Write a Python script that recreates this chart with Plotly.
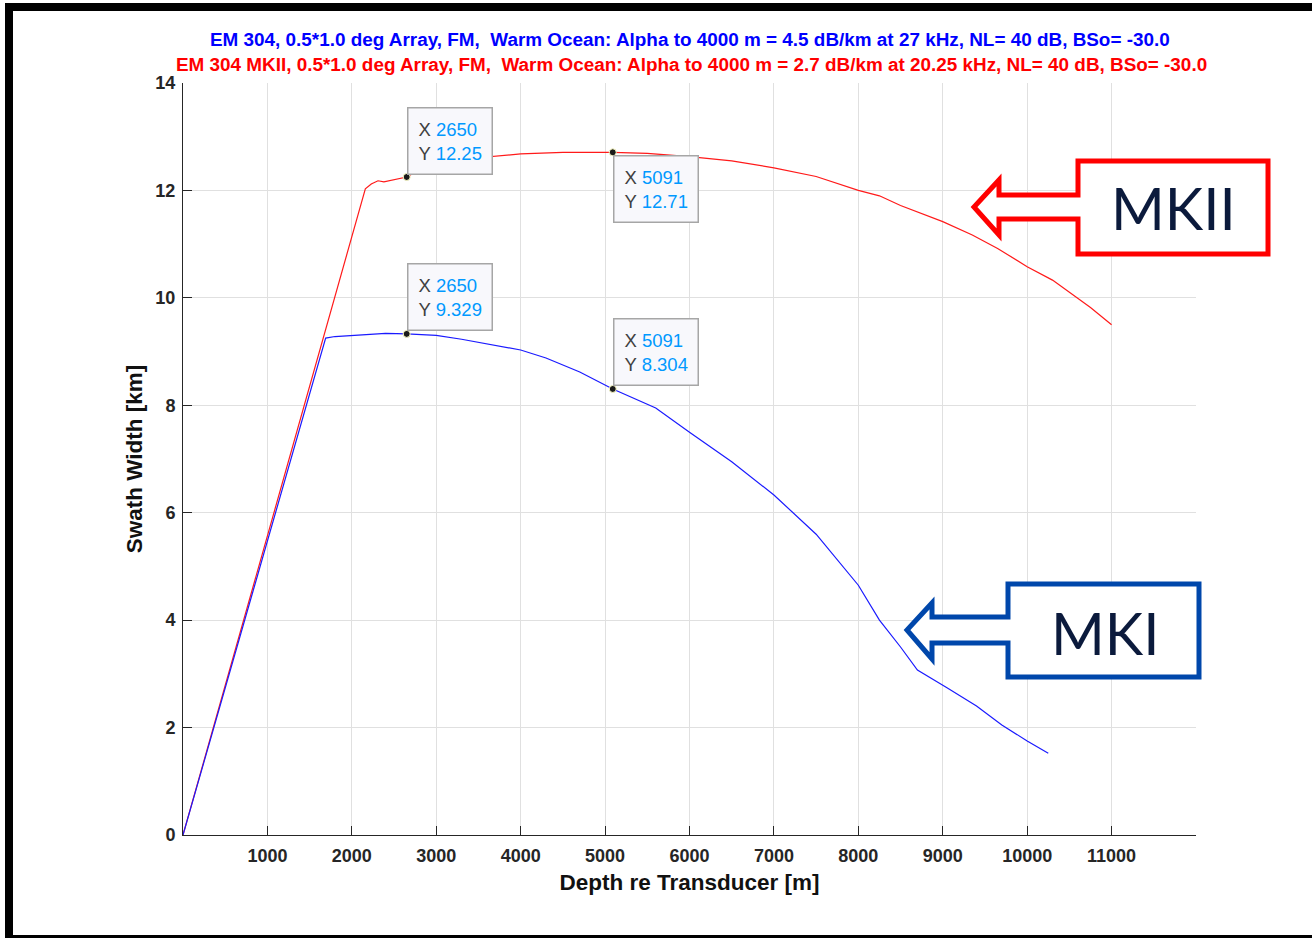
import plotly.graph_objects as go

# ---------------- data ----------------
mk2_depth = [0, 2160, 2230, 2310, 2380, 2500, 2650, 2800, 3000, 3300, 3700, 4000, 4500,
             5091, 5500, 6000, 6500, 7000, 7500, 8000, 8250, 8500, 9000, 9350, 9650,
             10000, 10300, 10500, 10750, 11000]
mk2_width = [0, 12.03, 12.12, 12.18, 12.16, 12.2, 12.25, 12.38, 12.5, 12.58, 12.63, 12.68, 12.71,
             12.71, 12.69, 12.63, 12.55, 12.42, 12.26, 12.0, 11.9, 11.72, 11.42, 11.17, 10.92,
             10.58, 10.33, 10.1, 9.82, 9.5]

mk1_depth = [0, 1690, 1800, 2000, 2200, 2400, 2650, 3000, 3300, 3600, 4000, 4300, 4700,
             5091, 5600, 6000, 6500, 7000, 7500, 8000, 8250, 8500, 8700, 9050, 9400, 9700,
             10000, 10250]
mk1_width = [0, 9.25, 9.28, 9.3, 9.33, 9.34, 9.329, 9.3, 9.23, 9.15, 9.03, 8.88, 8.62,
             8.304, 7.95, 7.5, 6.95, 6.33, 5.6, 4.65, 4.0, 3.5, 3.07, 2.74, 2.4, 2.05,
             1.75, 1.52]

tip_depth = [2650, 5091]
tip_mk2 = [12.25, 12.71]
tip_mk1 = [9.329, 8.304]
tip_mk2_text = ["12.25", "12.71"]
tip_mk1_text = ["9.329", "8.304"]

x_ticks = [1000, 2000, 3000, 4000, 5000, 6000, 7000, 8000, 9000, 10000, 11000]
y_ticks = [0, 2, 4, 6, 8, 10, 12, 14]

title_mk1 = "EM 304, 0.5*1.0 deg Array, FM,\u00a0 Warm Ocean: Alpha to 4000 m = 4.5 dB/km at 27 kHz, NL= 40 dB, BSo= -30.0"
title_mk2 = "EM 304 MKII, 0.5*1.0 deg Array, FM,\u00a0 Warm Ocean: Alpha to 4000 m = 2.7 dB/km at 20.25 kHz, NL= 40 dB, BSo= -30.0"

# ---------------- layout geometry ----------------
WIDTH, HEIGHT = 1312, 938
L, R, T, B = 183, 1196, 83, 835
PW, PH = R - L, B - T


def px(x):
    return (x - L) / PW


def py(y):
    return (B - y) / PH


FONT = "Liberation Sans, Arial, Helvetica, sans-serif"
AXC = "#262626"

fig = go.Figure()
fig.add_trace(go.Scatter(x=mk2_depth, y=mk2_width, mode="lines",
                         line=dict(color="#ff1a1a", width=1.2), showlegend=False, hoverinfo="skip"))
fig.add_trace(go.Scatter(x=mk1_depth, y=mk1_width, mode="lines",
                         line=dict(color="#1a1aff", width=1.2), showlegend=False, hoverinfo="skip"))
fig.add_trace(go.Scatter(x=tip_depth + tip_depth, y=tip_mk2 + tip_mk1, mode="markers",
                         marker=dict(color="#1a1a1a", size=7, line=dict(color="#ffffc8", width=1)),
                         showlegend=False, hoverinfo="skip"))

annotations = []
# title lines
annotations.append(dict(text=f"<b>{title_mk1}</b>", x=px(690), y=py(40), xref="paper", yref="paper",
                        showarrow=False, xanchor="center", yanchor="middle",
                        font=dict(family=FONT, size=18.9, color="#0000ff")))
annotations.append(dict(text=f"<b>{title_mk2}</b>", x=px(691), y=py(65), xref="paper", yref="paper",
                        showarrow=False, xanchor="center", yanchor="middle",
                        font=dict(family=FONT, size=18.9, color="#ff0000")))


def tip_text(xv, yv):
    return (f"X <span style='color:#0099ff'>{xv}</span><br>"
            f"Y <span style='color:#0099ff'>{yv}</span>")


tip_cfg = [
    (tip_depth[0], tip_mk2[0], tip_mk2_text[0], "bottom", 2),
    (tip_depth[1], tip_mk2[1], tip_mk2_text[1], "top", -3),
    (tip_depth[0], tip_mk1[0], tip_mk1_text[0], "bottom", 3),
    (tip_depth[1], tip_mk1[1], tip_mk1_text[1], "bottom", 3),
]
for xv, yv, ytxt, ya, ys in tip_cfg:
    annotations.append(dict(text=tip_text(xv, ytxt), x=xv, y=yv, xref="x", yref="y",
                            showarrow=False, xanchor="left", yanchor=ya, xshift=0, yshift=ys,
                            align="left", bgcolor="#f8f8fc", bordercolor="#a6a6a6", borderwidth=1.5,
                            borderpad=10, font=dict(family=FONT, size=18.5, color="#404040")))

# callout labels
annotations.append(dict(text="MKII", x=px(1173), y=py(208), xref="paper", yref="paper",
                        showarrow=False, xanchor="center", yanchor="middle",
                        font=dict(family="Lato, Open Sans, sans-serif", size=58, color="#0b1a3c")))
annotations.append(dict(text="MKI", x=px(1105), y=py(632), xref="paper", yref="paper",
                        showarrow=False, xanchor="center", yanchor="middle",
                        font=dict(family="Lato, Open Sans, sans-serif", size=58, color="#0b1a3c")))


def path_from(points):
    s = "M " + " L ".join(f"{px(x):.5f},{py(y):.5f}" for x, y in points) + " Z"
    return s


shapes = []
# outer frame (black bands)
for x0, y0, x1, y1 in [(5, 3, 1312, 11), (5, 3, 13, 938), (5, 935, 1312, 938)]:
    shapes.append(dict(type="rect", xref="paper", yref="paper", x0=px(x0), x1=px(x1),
                       y0=py(y1), y1=py(y0), fillcolor="black", line=dict(width=0), layer="above"))

mk2_callout = [(1078, 161), (1268, 161), (1268, 254), (1078, 254), (1078, 219), (999, 219),
               (999, 235), (974, 207), (999, 180), (999, 195), (1078, 195)]
mk1_callout = [(1008, 584), (1199, 584), (1199, 677), (1008, 677), (1008, 643), (932, 643),
               (932, 659), (907, 630), (932, 603), (932, 617), (1008, 617)]
shapes.append(dict(type="path", xref="paper", yref="paper", path=path_from(mk2_callout),
                   fillcolor="white", line=dict(color="#ff0000", width=5), layer="above"))
shapes.append(dict(type="path", xref="paper", yref="paper", path=path_from(mk1_callout),
                   fillcolor="white", line=dict(color="#0047ab", width=5), layer="above"))

fig.update_layout(
    width=WIDTH, height=HEIGHT,
    margin=dict(l=L, r=WIDTH - R, t=T, b=HEIGHT - B, autoexpand=False),
    paper_bgcolor="white", plot_bgcolor="white",
    annotations=annotations, shapes=shapes,
    xaxis=dict(range=[0, 12000], tickvals=x_ticks, ticktext=[str(v) for v in x_ticks],
               showgrid=True, gridcolor="#e0e0e0", gridwidth=1, zeroline=False,
               showline=True, linecolor=AXC, linewidth=1, mirror=False,
               ticks="inside", ticklen=9, tickcolor=AXC, tickwidth=1, ticklabelstandoff=4,
               tickfont=dict(family=FONT, size=18, color=AXC, weight="bold"),
               title=dict(text="<b>Depth re Transducer [m]</b>", standoff=9,
                          font=dict(family=FONT, size=22.5, color="#111111"))),
    yaxis=dict(range=[0, 14], tickvals=y_ticks, ticktext=[str(v) for v in y_ticks],
               showgrid=True, gridcolor="#e0e0e0", gridwidth=1, zeroline=False,
               showline=True, linecolor=AXC, linewidth=1, mirror=False,
               ticks="inside", ticklen=9, tickcolor=AXC, tickwidth=1, ticklabelstandoff=3,
               tickfont=dict(family=FONT, size=18, color=AXC, weight="bold"),
               title=dict(text="<b>Swath Width [km]</b>", standoff=6,
                          font=dict(family=FONT, size=22.5, color="#111111"))),
)

fig.write_html("out.html")
